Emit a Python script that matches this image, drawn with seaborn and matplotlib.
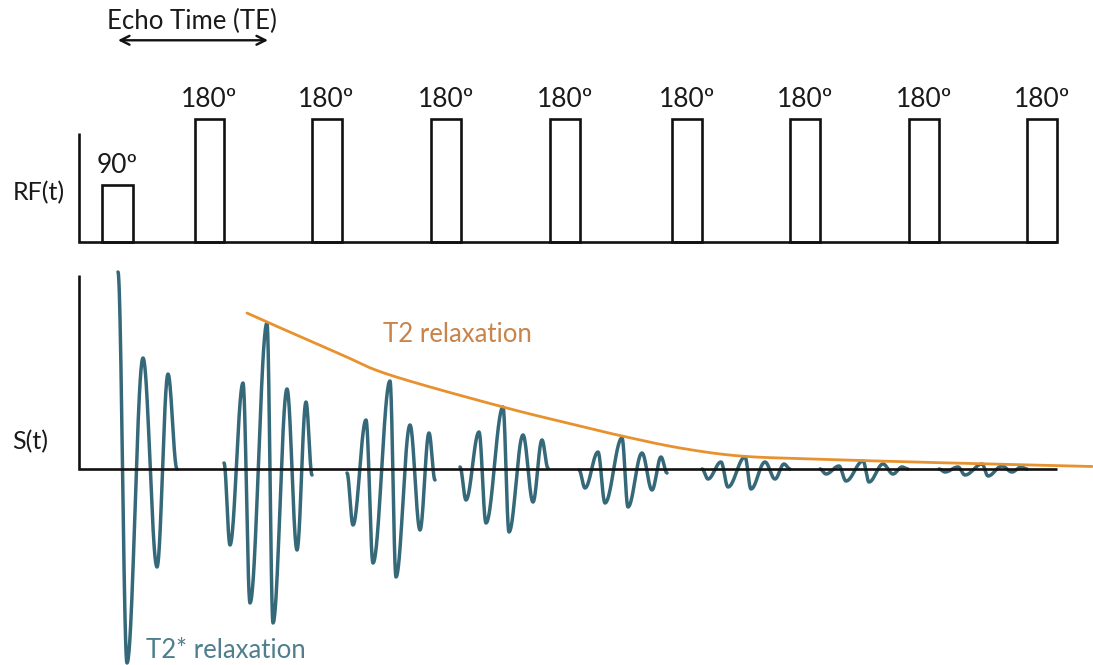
import numpy as np
import pandas as pd
import matplotlib
matplotlib.use("Agg")
import matplotlib.pyplot as plt
import seaborn as sns

# ---------------- data (time in ms, amplitudes in arbitrary units) ----------------
pulse_labels = ["90º", "180º", "180º", "180º", "180º", "180º", "180º", "180º", "180º"]
pulse_time = [3.85, 13.05, 24.75, 36.75, 48.65, 60.85, 72.65, 84.55, 96.35]
pulse_height = [0.46, 1.0, 1.0, 1.0, 1.0, 1.0, 1.0, 1.0, 1.0]
pulse_width = [3.1, 2.9, 3.0, 3.0, 3.0, 3.0, 3.0, 3.0, 3.0]

# free induction decay after the 90º pulse: extrema (time, amplitude)
fid_time = [3.9, 4.8, 6.4, 7.8, 8.9, 9.8]
fid_amp = [1.97, -1.94, 1.11, -0.98, 0.95, 0.0]

# spin echoes: centres and extrema (offset from centre, amplitude)
echo_center = [18.8, 31.1, 42.4, 54.3, 66.6, 78.4, 90.3]
echo_offset = [-4.3, -3.7, -2.4, -1.7, 0.0, 0.6, 2.0, 3.0, 3.9, 4.5]
echo1 = [0.06, -0.76, 0.86, -1.34, 1.46, -1.54, 0.80, -0.81, 0.67, -0.06]
echo2 = [-0.04, -0.56, 0.49, -0.94, 0.88, -1.08, 0.44, -0.61, 0.36, -0.11]
echo3 = [0.02, -0.31, 0.37, -0.54, 0.62, -0.63, 0.34, -0.33, 0.29, 0.01]
echo4 = [-0.01, -0.19, 0.17, -0.34, 0.31, -0.38, 0.16, -0.21, 0.12, -0.04]
echo5 = [0.0, -0.10, 0.07, -0.18, 0.12, -0.20, 0.07, -0.10, 0.05, 0.0]
echo6 = [0.0, -0.05, 0.03, -0.12, 0.08, -0.13, 0.05, -0.05, 0.02, 0.0]
echo7 = [0.0, -0.03, 0.02, -0.06, 0.05, -0.07, 0.03, -0.03, 0.02, 0.0]
echo_amps = [echo1, echo2, echo3, echo4, echo5, echo6, echo7]

# T2 relaxation envelope
t2_time = [16.8, 18.8, 26.1, 31.1, 42.4, 50.1, 54.3, 60.1, 66.1, 73.4, 83.4, 93.4, 101.3]
t2_amp = [1.56, 1.47, 1.15, 0.94, 0.62, 0.43, 0.33, 0.21, 0.13, 0.10, 0.07, 0.045, 0.025]

# ---------------- style ----------------
sns.set_theme(style="white")
plt.rcParams["font.family"] = ["Lato", "DejaVu Sans"]

TEAL = "#35697a"
ORANGE = "#e8912f"
T2_TEXT = "#c8844a"
T2S_TEXT = "#4f7f8e"
BLACK = "#111111"


def smooth_through(ts, amps, n=40):
    """Half-cosine segments between successive extrema."""
    xs, ys = [], []
    for i in range(len(ts) - 1):
        s = np.linspace(0, 1, n, endpoint=(i == len(ts) - 2))
        xs.append(ts[i] + (ts[i + 1] - ts[i]) * s)
        ys.append(amps[i] + (amps[i + 1] - amps[i]) * (1 - np.cos(np.pi * s)) / 2)
    return np.concatenate(xs), np.concatenate(ys)


def catmull_rom(xs, ys, n=30):
    """Smooth curve through the read points (centripetal-free, uniform)."""
    p = np.column_stack([xs, ys]).astype(float)
    p = np.vstack([2 * p[0] - p[1], p, 2 * p[-1] - p[-2]])
    out = []
    for i in range(1, len(p) - 2):
        p0, p1, p2, p3 = p[i - 1], p[i], p[i + 1], p[i + 2]
        s = np.linspace(0, 1, n, endpoint=(i == len(p) - 3))[:, None]
        out.append(0.5 * (2 * p1 + (-p0 + p2) * s + (2 * p0 - 5 * p1 + 4 * p2 - p3) * s ** 2
                          + (-p0 + 3 * p1 - 3 * p2 + p3) * s ** 3))
    out = np.vstack(out)
    return out[:, 0], out[:, 1]


frames = []
x, y = smooth_through(fid_time, fid_amp)
frames.append(pd.DataFrame({"t": x, "s": y, "segment": "FID"}))
for k, (c, amps) in enumerate(zip(echo_center, echo_amps)):
    x, y = smooth_through([c + o for o in echo_offset], amps)
    frames.append(pd.DataFrame({"t": x, "s": y, "segment": f"echo{k+1}"}))
wave = pd.DataFrame(pd.concat(frames, ignore_index=True))

t2x, t2y = catmull_rom(t2_time, t2_amp)
envelope = pd.DataFrame({"t": t2x, "s": t2y})

# ---------------- figure ----------------
W, H = 1093, 665
fig = plt.figure(figsize=(W / 100, H / 100), dpi=100)
ax_rf = fig.add_axes([0, (H - 260) / H, 1, 260 / H])
ax_s = fig.add_axes([0, 0, 1, 405 / H])
for ax in (ax_rf, ax_s):
    ax.set_xlim(-7.9, 101.4)
ax_rf.set_ylim(-18 / 123, 242 / 123)
ax_s.set_ylim(-1.96, 2.09)

# RF panel
ax_rf.bar(pulse_time, pulse_height, width=pulse_width, fill=False,
          edgecolor=BLACK, linewidth=1.9, zorder=3)
end_rf = pulse_time[-1] + pulse_width[-1] / 2
ax_rf.plot([0, 0, end_rf], [0.89, 0, 0], color=BLACK, lw=1.9,
           solid_capstyle="butt", solid_joinstyle="miter", zorder=4)
for t, h, lab in zip(pulse_time, pulse_height, pulse_labels):
    ax_rf.text(t, h + 0.16, lab, ha="center", va="center", fontsize=19, color="#1a1a1a")
ax_rf.text(-4.0, 0.40, "RF(t)", ha="center", va="center", fontsize=18, color="#1a1a1a")
ax_rf.text(19.15 - 7.85, 1.79, "Echo Time (TE)", ha="center", va="center", fontsize=18.5,
           color="#1a1a1a")
ax_rf.annotate("", xy=(fid_time[0], 1.64), xytext=(echo_center[0] + 0.1, 1.64),
               arrowprops=dict(arrowstyle="<->", color=BLACK, lw=1.7,
                               mutation_scale=16, shrinkA=0, shrinkB=0))

# signal panel
sns.lineplot(data=wave, x="t", y="s", units="segment", estimator=None, sort=False,
             color=TEAL, lw=2.5, ax=ax_s, legend=False, zorder=2)
ax_s.plot([0, 0, end_rf], [1.94, 0, 0], color=BLACK, lw=1.9,
          solid_capstyle="butt", solid_joinstyle="miter", zorder=3)
sns.lineplot(data=envelope, x="t", y="s", sort=False, estimator=None, color=ORANGE,
             lw=2.0, ax=ax_s, zorder=4)
ax_s.text(-4.9, 0.27, "S(t)", ha="center", va="center", fontsize=18, color="#1a1a1a")
ax_s.text(37.8, 1.34, "T2 relaxation", ha="center", va="center", fontsize=18.5, color=T2_TEXT)
ax_s.text(14.7, -1.81, "T2* relaxation", ha="center", va="center", fontsize=18.5, color=T2S_TEXT)

for ax in (ax_rf, ax_s):
    ax.set_xlabel("")
    ax.set_ylabel("")
    ax.set_axis_off()

fig.savefig("out.png", dpi=100, facecolor="white")
